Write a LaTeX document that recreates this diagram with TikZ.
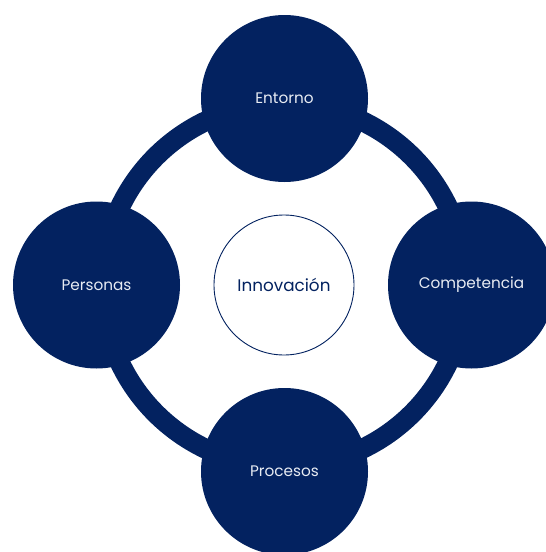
\documentclass[tikz,border=0pt]{standalone}
\usepackage{fontspec}
\setmainfont{Poppins}
\definecolor{navy}{RGB}{3,34,96}
\definecolor{txt}{RGB}{232,236,243}
\begin{document}
\begin{tikzpicture}[x=1pt,y=-1pt,
  bigc/.style={circle,fill=navy,minimum size=167pt,inner sep=0pt,text=txt,font=\fontsize{15.3}{17}\selectfont},
  ctr/.style={circle,draw=navy,line width=0.9pt,fill=white,minimum size=140pt,inner sep=0pt,text=navy,font=\fontsize{16.8}{19}\selectfont},
  ring/.style={draw=navy,line width=20pt}]
\useasboundingbox (0,0) rectangle (546,552);
\clip (0,0) rectangle (546,552);
\coordinate (O) at (284,285);
\draw[ring] (O) circle (181.5pt);
\node[bigc] (E) at (284.5,98.5) {\raisebox{-1.5pt}{Entorno}};
\node[bigc] (P) at (96.5,285) {\raisebox{-1.5pt}{Personas}};
\node[bigc] (C) at (471.5,285) {\raisebox{-1.5pt}{Competencia}};
\node[bigc] (R) at (284.5,471.5) {\raisebox{-1.5pt}{Procesos}};
\node[ctr] (I) at (O) {\raisebox{-1pt}{Innovación}};
\end{tikzpicture}
\end{document}
